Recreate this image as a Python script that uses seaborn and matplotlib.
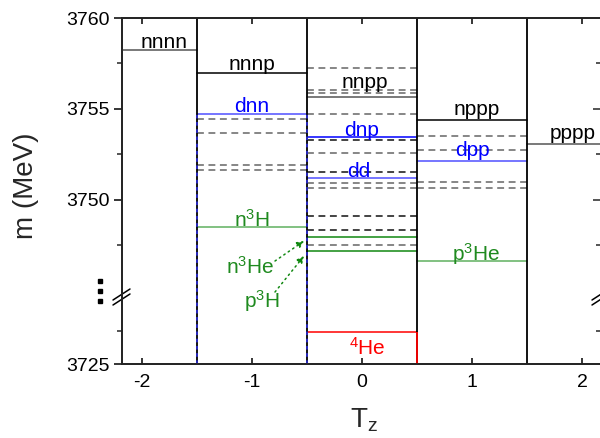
import numpy as np
import pandas as pd
import matplotlib
matplotlib.use('Agg')
import matplotlib.pyplot as plt
import seaborn as sns

# ---------------- data ----------------
columns = [-2, -1, 0, 1, 2]
tick_labels = ['-2', '-1', '0', '1', '2']

level_name = ['nnnn', 'nnnp', 'dnn', 'n3H', 'nnpp', 'dnp', 'dd', 'n3He', 'p3H',
              '4He', 'nppp', 'dpp', 'p3He', 'pppp']
level_tz = [-2, -1, -1, -1, 0, 0, 0, 0, 0, 0, 1, 1, 1, 2]
level_mass = [3758.26, 3756.97, 3754.74, 3748.49, 3755.67, 3753.45, 3751.23,
              3747.96, 3747.19, 3727.38, 3754.38, 3752.16, 3746.66, 3753.09]

res_tz = [-1, -1, -1, -1,
          0, 0, 0, 0, 0, 0, 0, 0, 0, 0, 0, 0,
          1, 1, 1, 1]
res_mass = [3754.43, 3753.70, 3751.91, 3751.63,
            3757.23, 3756.07, 3755.88, 3754.73, 3753.30, 3752.60, 3751.55,
            3750.92, 3750.68, 3749.14, 3748.34, 3747.53,
            3753.53, 3752.75, 3751.01, 3750.68]
res_dark = [0, 0, 0, 0,
            0, 0, 0, 0, 1, 0, 1, 0, 0, 1, 1, 0,
            0, 0, 0, 0]

y_major = [3725, 3750, 3755, 3760]
y_minor = [3727.5, 3747.5, 3752.5, 3757.5]

# ---------------- styles ----------------
GRAY = '#555555'
BLUE_D = '#0000ff'
BLUE_L = '#5050ff'
GREEN_D = '#118811'
GREEN_L = '#5fb05f'
RED = '#ff0000'
line_color = {'nnnn': GRAY, 'nnnp': 'black', 'dnn': BLUE_L, 'n3H': GREEN_L,
              'nnpp': GRAY, 'dnp': BLUE_D, 'dd': BLUE_L, 'n3He': GREEN_D,
              'p3H': GREEN_D, '4He': RED, 'nppp': 'black', 'dpp': BLUE_L,
              'p3He': GREEN_L, 'pppp': GRAY}
GTXT = '#1f8a1f'
label_text = {'nnnn': 'nnnn', 'nnnp': 'nnnp', 'dnn': 'dnn',
              'n3H': r'n$\mathregular{^3}$H', 'nnpp': 'nnpp', 'dnp': 'dnp',
              'dd': 'dd', '4He': r'$\mathregular{^4}$He', 'nppp': 'nppp',
              'dpp': 'dpp', 'p3He': r'p$\mathregular{^3}$He', 'pppp': 'pppp'}
label_color = {'nnnn': 'black', 'nnnp': 'black', 'dnn': BLUE_D, 'n3H': GTXT,
               'nnpp': 'black', 'dnp': BLUE_D, 'dd': BLUE_D, '4He': RED,
               'nppp': 'black', 'dpp': BLUE_D, 'p3He': GTXT, 'pppp': 'black'}
label_dx = {'nnnn': 0.2, 'nnnp': 0.0, 'dnn': 0.0, 'n3H': 0.0, 'nnpp': 0.03,
            'dnp': 0.0, 'dd': -0.03, '4He': 0.05, 'nppp': 0.04, 'dpp': 0.0,
            'p3He': 0.04, 'pppp': -0.08}
label_dy = {'nnnn': 1.0, 'nnnp': 2.0, 'dnn': 1.5, 'n3H': 0.5, 'nnpp': 6.0,
            'dnp': 1.0, 'dd': 0.5, '4He': -16.5, 'nppp': 3.5, 'dpp': 3.5,
            'p3He': 0.0, 'pppp': 3.5}

# ---------------- broken y scale ----------------
K = 13.4 / 18.2
BREAK_HI = 3745.0
BREAK_LO = 3730.45


def fwd(y):
    y = np.asarray(y, dtype=float)
    return np.where(y >= BREAK_HI, y,
                    BREAK_HI - (BREAK_LO - np.minimum(y, BREAK_LO)) * K)


def inv(y):
    y = np.asarray(y, dtype=float)
    return np.where(y >= BREAK_HI, y, BREAK_LO - (BREAK_HI - y) / K)


sns.set_theme(style='ticks')
plt.rcParams['font.family'] = ['Liberation Sans', 'DejaVu Sans']
plt.rcParams['mathtext.fontset'] = 'custom'
plt.rcParams['mathtext.rm'] = 'Liberation Sans'
plt.rcParams['mathtext.it'] = 'Liberation Sans:italic'

fig = plt.figure(figsize=(6.0, 4.38), dpi=100)
ax = fig.add_axes([122 / 600, 1 - 364 / 438, 479 / 600, 346 / 438])
ax.set_yscale('function', functions=(fwd, inv))

# level lines (solid)
rows = []
for n, t, m in zip(level_name, level_tz, level_mass):
    rows.append({'id': n, 'x': t - 0.5, 'm': m})
    rows.append({'id': n, 'x': t + 0.5, 'm': m})
df_lev = pd.DataFrame(rows)
sns.lineplot(data=df_lev, x='x', y='m', hue='id', units='id', estimator=None,
             palette=line_color, legend=False, linewidth=1.1, ax=ax, zorder=3)

# resonance lines (dashed)
rows = []
for i, (t, m, d) in enumerate(zip(res_tz, res_mass, res_dark)):
    rows.append({'id': f'r{i}', 'x': t - 0.5, 'm': m, 'dark': d})
    rows.append({'id': f'r{i}', 'x': t + 0.5, 'm': m, 'dark': d})
df_res = pd.DataFrame(rows)
res_pal = {f'r{i}': ('#111111' if d else '#666666') for i, d in enumerate(res_dark)}
sns.lineplot(data=df_res, x='x', y='m', hue='id', units='id', estimator=None,
             palette=res_pal, legend=False, linewidth=1.1, ax=ax,
             linestyle=(0, (4.5, 3)), zorder=2)

# column boundaries
bounds = [c + 0.5 for c in columns[:-1]]
ax.vlines(bounds, 3725, 3760, colors='black', linewidth=1.3, zorder=4)
ax.vlines([-1.5, -0.5], 3725, level_mass[level_name.index('dnn')],
          colors='#2a2acc', linewidth=1.3, linestyles=(0, (2, 2)), zorder=5)
ax.vlines([0.5], 3725, level_mass[level_name.index('4He')], colors=RED,
          linewidth=1.3, zorder=5)

# level labels
for n, t, m in zip(level_name, level_tz, level_mass):
    if n not in label_text:
        continue
    ax.annotate(label_text[n], xy=(t + label_dx[n], m), xytext=(0, label_dy[n]),
                textcoords='offset points', ha='center', va='baseline',
                fontsize=15, color=label_color[n], zorder=6)

# n3He / p3H pointers
ax.text((250 - 122) / 479, (364 - 274) / 346, r'n$\mathregular{^3}$He',
        transform=ax.transAxes, ha='center', va='baseline', fontsize=15, color=GTXT)
ax.text((262 - 122) / 479, (364 - 308) / 346, r'p$\mathregular{^3}$H',
        transform=ax.transAxes, ha='center', va='baseline', fontsize=15, color=GTXT)
for (x0, y0), (x1, y1) in [((275, 261), (304, 241)), ((275, 292), (304, 256))]:
    ax.annotate('', xy=((x1 - 122) / 479, (364 - y1) / 346),
                xytext=((x0 - 122) / 479, (364 - y0) / 346),
                xycoords='axes fraction', textcoords='axes fraction',
                arrowprops=dict(arrowstyle='-|>', linestyle=(0, (1, 2.5)),
                                color=GREEN_D, lw=1.1, mutation_scale=10,
                                shrinkA=0, shrinkB=0))

# axes limits / ticks
ax.set_xlim(-2.182, 2.173)
ax.set_ylim(3725, 3760)
ax.set_xticks(columns)
ax.set_xticklabels(tick_labels)
ax.set_yticks(y_major)
ax.set_yticks(y_minor, minor=True)
ax.set_yticklabels([str(v) for v in y_major])
ax.set_xlabel('')
ax.set_ylabel('')
ax.tick_params(axis='y', which='major', direction='out', length=6, width=1.1,
               labelsize=14, pad=3, colors='black')
ax.tick_params(axis='y', which='minor', direction='out', length=3.5, width=1.1)
ax.tick_params(axis='x', which='major', direction='in', length=4, width=1.1,
               labelsize=14, pad=7, top=True, colors='black')
for s in ax.spines.values():
    s.set_visible(True)
    s.set_linewidth(1.2)
    s.set_color('black')

ax2 = ax.twinx()
ax2.set_yscale('function', functions=(fwd, inv))
ax2.set_ylim(3725, 3760)
ax2.set_yticks(y_major)
ax2.set_yticks(y_minor, minor=True)
ax2.set_yticklabels([])
ax2.tick_params(axis='y', which='major', direction='in', length=6, width=1.1)
ax2.tick_params(axis='y', which='minor', direction='in', length=3.5, width=1.1)
ax2.grid(False)

# break marks
for xs in (122, 601):
    for dy in (0, 5):
        ax.plot([(xs - 9 - 122) / 479, (xs + 8 - 122) / 479],
                [(364 - (300 + dy)) / 346, (364 - (289 + dy)) / 346],
                transform=ax.transAxes, color='black', lw=1.1, clip_on=False,
                zorder=7)
ax.plot([(100 - 122) / 479] * 3, [(364 - y) / 346 for y in (281, 291, 301)],
        transform=ax.transAxes, ls='none', marker='s', markersize=3,
        color='black', clip_on=False)

# axis titles
fig.text(26 / 600, 1 - 186 / 438, 'm (MeV)', rotation=90, ha='center',
         va='center', fontsize=20)
fig.text(350 / 600, 1 - 428 / 438, r'T$_\mathregular{z}$', ha='left',
         va='baseline', fontsize=20)

fig.savefig('out.png', dpi=100)
